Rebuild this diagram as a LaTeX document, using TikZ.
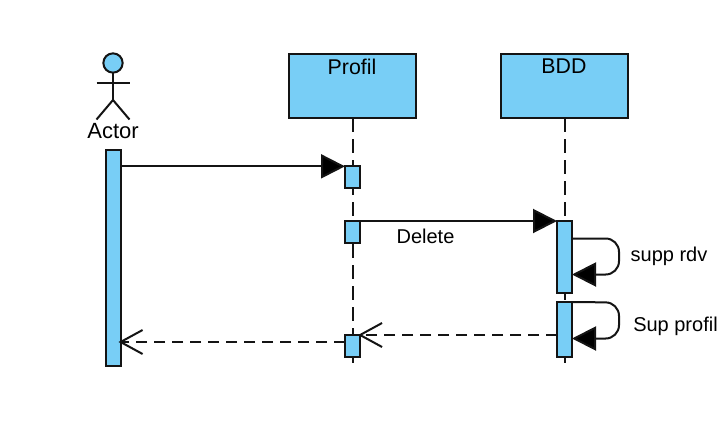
\documentclass[tikz,border=0pt]{standalone}
\usepackage{fontspec}
\setmainfont{Liberation Sans}
\usetikzlibrary{arrows.meta}
\definecolor{boxblue}{HTML}{78CEF6}
\definecolor{ink}{HTML}{141414}
\tikzset{
  px/.style={x=0.75pt,y=-0.75pt},
  every path/.style={line width=1.5pt},
  lifebox/.style={draw=ink,fill=boxblue,minimum width=95.25pt,minimum height=48pt,inner sep=0pt,outer sep=0pt},
  actbar/.style={draw=ink,fill=boxblue,minimum width=11.25pt,inner sep=0pt,outer sep=0pt},
  lifeline/.style={draw=ink,dash pattern=on 10.5pt off 5.25pt},
  limb/.style={draw=ink},
  msg/.style={draw=ink,-{Triangle[length=18pt,width=18pt,fill=black]}},
  ret/.style={draw=ink,dash pattern=on 8.25pt off 5.25pt,shorten >=-1.5pt,-{Straight Barb[length=16.5pt,width=18pt,line width=1.5pt]}},
  selfmsg/.style={draw=ink,rounded corners=10pt,-{Triangle[length=18pt,width=18pt,fill=black]}},
  lbl/.style={draw=none,text=black,inner sep=0pt,font=\fontsize{#1}{#1}\selectfont},
}
\begin{document}
\begin{tikzpicture}[px]
\useasboundingbox (0,0) rectangle (722,447);
% lifeline heads
\node[lifebox] (profil) at (352.5,86) {};
\node[lifebox] (bdd) at (564.5,86) {};
\node[lbl=16,anchor=center] (profilt) at (352,66.5) {Profil};
\node[lbl=16,anchor=center] (bddt) at (564,66.5) {BDD};
% lifeline ends
\coordinate (profilend) at (352.5,366);
\coordinate (bddend) at (564.5,366);
\path[lifeline] (profil.south) -- (profilend);
\path[lifeline] (bdd.south) -- (bddend);
% actor
\node[circle,draw=ink,fill=boxblue,minimum size=14.5pt,inner sep=0pt,outer sep=0pt] (head) at (113,63) {};
\coordinate (hip) at (113,100);
\coordinate (armL) at (96.5,83);
\coordinate (armR) at (129.5,83);
\coordinate (legL) at (96.5,119.5);
\coordinate (legR) at (129.5,119.5);
\path[limb] (head.south) -- (hip);
\path[limb] (armL) -- (armR);
\path[limb] (legL) -- (hip) -- (legR);
\node[lbl=16.5,anchor=center] (actort) at (113,131.5) {Actor};
% activations
\node[actbar,minimum height=162pt] (a0) at (113,258) {};
\node[actbar,minimum height=16pt] (p1) at (352.5,177) {};
\node[actbar,minimum height=16.5pt] (p2) at (352.5,232) {};
\node[actbar,minimum height=16.5pt] (p3) at (352.5,346) {};
\node[actbar,minimum height=54pt] (b1) at (564.5,257) {};
\node[actbar,minimum height=41.25pt] (b2) at (564.5,329.5) {};
% messages
\coordinate (m1s) at (a0.east |- p1.north);
\path[msg] (m1s) -- (p1.north west);
\path[msg] (p2.north east) -- (b1.north west);
\coordinate (s1a) at (572,238.5);
\coordinate (s1b) at (619,238.5);
\coordinate (s1c) at (619,274.5);
\coordinate (s1d) at (572,274.5);
\path[selfmsg] (s1a) -- (s1b) -- (s1c) -- (s1d);
\coordinate (s2a) at (b2.north east);
\coordinate (s2b) at (619,302.5);
\coordinate (s2c) at (619,338.5);
\coordinate (s2d) at (572,338.5);
\path[selfmsg] (s2a) -- (s2b) -- (s2c) -- (s2d);
\coordinate (r1s) at (557,335);
\path[ret] (r1s) -- (p3.north east);
\coordinate (r2y) at (0,342);
\coordinate (r2e) at (a0.east |- r2y);
\coordinate (r2s) at (p3.west |- r2y);
\path[ret] (r2s) -- (r2e);
% labels
\node[lbl=15,anchor=center] (dl) at (425.5,236) {Delete};
\node[lbl=15,anchor=center] (s1l) at (669,256) {supp rdv};
\node[lbl=15,anchor=center] (s2l) at (675.5,326) {Sup profil};
\end{tikzpicture}
\end{document}
